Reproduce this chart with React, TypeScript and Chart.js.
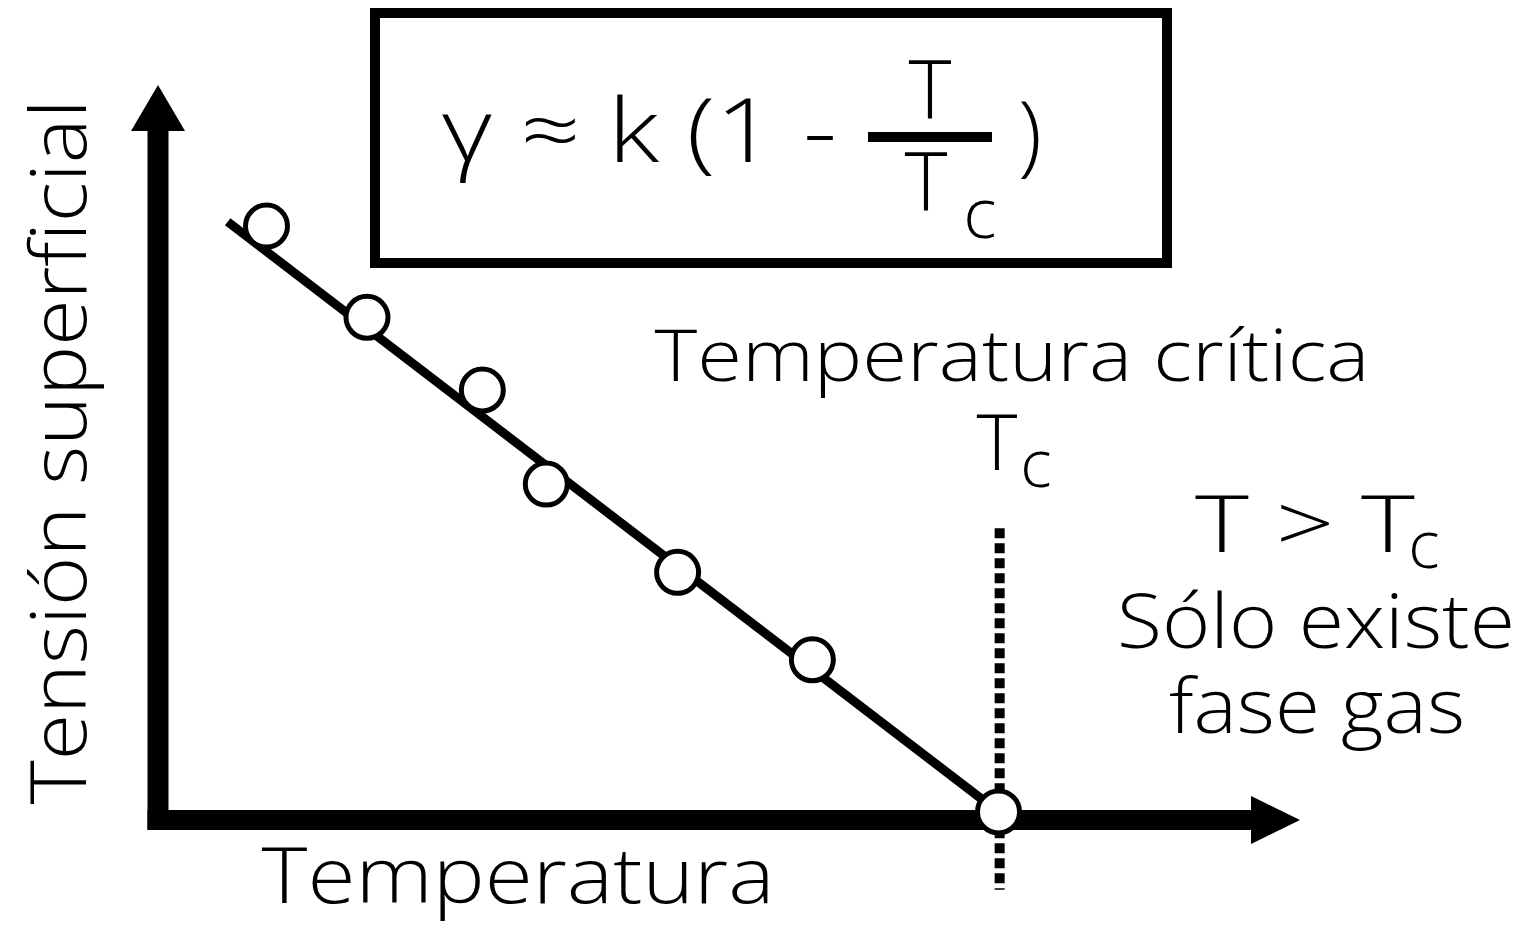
import React, { useEffect, useRef } from "react";
import { Chart, registerables } from "chart.js";

Chart.register(...registerables);

// Data (arbitrary units: x = temperature, y = surface tension)
const TEMPERATURE = [9.5, 18.3, 28.4, 34.0, 45.5, 57.3, 73.6];
const TENSION = [80.8, 68.4, 58.5, 45.7, 33.7, 21.8, 1.1];
const FIT_X = [6.1, 73.6];
const FIT_Y = [81.4, 1.1];
const TC = 73.7;
const TC_LINE_Y = [39.7, -9.5];
const X_MAX = 100;
const Y_MAX = 100;

const X_TITLE = "Temperatura";
const Y_TITLE = "Tensión superficial";
const CRIT_LABEL = "Temperatura crítica";
const NOTE_1 = "Sólo existe";
const NOTE_2 = "fase gas";

const FONT = '"Open Sans", "DejaVu Sans", sans-serif';

function txt(
  ctx: CanvasRenderingContext2D,
  s: string,
  x: number,
  y: number,
  size: number,
  align: CanvasTextAlign = "left",
  width?: number
) {
  ctx.save();
  ctx.font = `300 ${size}px ${FONT}`;
  ctx.fillStyle = "#000";
  ctx.textBaseline = "alphabetic";
  if (width) {
    const w = ctx.measureText(s).width;
    const k = width / w;
    ctx.translate(x, y);
    ctx.scale(k, 1);
    ctx.textAlign = align;
    ctx.fillText(s, 0, 0);
  } else {
    ctx.textAlign = align;
    ctx.fillText(s, x, y);
  }
  ctx.restore();
}

const decorPlugin = {
  id: "decor",
  beforeDatasetsDraw(chart: any) {
    const ctx: CanvasRenderingContext2D = chart.ctx;
    const xs = chart.scales.x;
    const ys = chart.scales.y;
    const x0 = xs.getPixelForValue(0);
    const y0 = ys.getPixelForValue(0);
    const xEnd = xs.getPixelForValue(X_MAX);
    const yEnd = ys.getPixelForValue(Y_MAX);
    ctx.save();
    // dotted critical line
    const xc = xs.getPixelForValue(TC);
    ctx.strokeStyle = "#000";
    ctx.lineWidth = 10;
    ctx.setLineDash([10, 5]);
    ctx.beginPath();
    ctx.moveTo(xc, ys.getPixelForValue(TC_LINE_Y[0]));
    ctx.lineTo(xc, ys.getPixelForValue(TC_LINE_Y[1]));
    ctx.stroke();
    ctx.setLineDash([]);
    // axes
    ctx.fillStyle = "#000";
    ctx.fillRect(x0 - 10.5, yEnd + 44, 21, y0 + 10 - (yEnd + 44));
    ctx.fillRect(x0 - 10.5, y0 - 10, xEnd - 48 - (x0 - 10.5), 20);
    ctx.beginPath();
    ctx.moveTo(x0, yEnd);
    ctx.lineTo(x0 - 27, yEnd + 46);
    ctx.lineTo(x0 + 27, yEnd + 46);
    ctx.closePath();
    ctx.fill();
    ctx.beginPath();
    ctx.moveTo(xEnd, y0);
    ctx.lineTo(xEnd - 49, y0 - 24);
    ctx.lineTo(xEnd - 49, y0 + 24);
    ctx.closePath();
    ctx.fill();
    ctx.restore();
  },
  afterDraw(chart: any) {
    const ctx: CanvasRenderingContext2D = chart.ctx;
    ctx.save();
    // formula box
    ctx.strokeStyle = "#000";
    ctx.lineWidth = 10;
    ctx.strokeRect(375, 13, 792, 250);
    txt(ctx, "γ ≈ k (1 -", 442, 162, 88, "left", 395);
    ctx.fillStyle = "#000";
    ctx.fillRect(868, 132, 124, 10);
    txt(ctx, "T", 930, 118, 82, "center");
    txt(ctx, "T", 926, 210, 82, "center");
    txt(ctx, "c", 980, 238, 70, "center");
    txt(ctx, ")", 1030, 165, 88, "center");
    // labels
    txt(ctx, CRIT_LABEL, 1012, 381, 72, "center", 715);
    txt(ctx, "T", 997, 470, 78, "center");
    txt(ctx, "c", 1036, 487, 66, "center");
    txt(ctx, "T > T", 1305, 552, 80, "center", 220);
    txt(ctx, "c", 1424, 568, 66, "center");
    txt(ctx, NOTE_1, 1316, 648, 76, "center", 398);
    txt(ctx, NOTE_2, 1317, 733, 76, "center", 296);
    txt(ctx, X_TITLE, 518, 903, 78, "center", 513);
    ctx.translate(86, 452);
    ctx.rotate(-Math.PI / 2);
    txt(ctx, Y_TITLE, 0, 0, 78, "center", 705);
    ctx.restore();
  },
};

export default function App() {
  const ref = useRef<HTMLCanvasElement | null>(null);
  useEffect(() => {
    if (!ref.current) return;
    const chart = new Chart(ref.current, {
      type: "scatter",
      data: {
        datasets: [
          {
            type: "line",
            data: FIT_X.map((x, i) => ({ x, y: FIT_Y[i] })),
            borderColor: "#000",
            borderWidth: 9,
            pointRadius: 0,
            order: 2,
          } as any,
          {
            type: "scatter",
            data: TEMPERATURE.map((x, i) => ({ x, y: TENSION[i] })),
            pointRadius: 21,
            pointBorderWidth: 5,
            pointBackgroundColor: "#fff",
            pointBorderColor: "#000",
            borderColor: "#000",
            backgroundColor: "#fff",
            order: 1,
          },
        ],
      },
      options: {
        responsive: false,
        animation: false,
        devicePixelRatio: 1,
        layout: { padding: { left: 158, right: 230, top: 85, bottom: 107 } },
        plugins: { legend: { display: false }, tooltip: { enabled: false } },
        scales: {
          x: { type: "linear", min: 0, max: X_MAX, display: false },
          y: { type: "linear", min: 0, max: Y_MAX, display: false },
        },
        clip: false as any,
      },
      plugins: [decorPlugin],
    });
    return () => chart.destroy();
  }, []);
  return (
    <div style={{ position: "absolute", left: 0, top: 0, width: 1530, height: 927, background: "#fff" }}>
      <canvas ref={ref} width={1530} height={927} style={{ display: "block" }} />
    </div>
  );
}
